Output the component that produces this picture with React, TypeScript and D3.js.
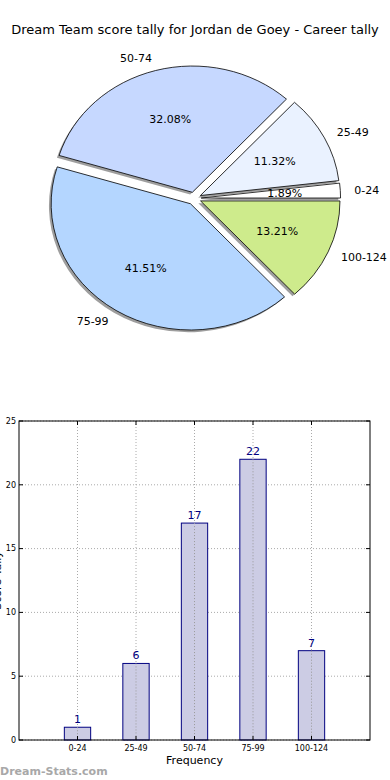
import React from "react";
import * as d3 from "d3";

const categories = ["0-24", "25-49", "50-74", "75-99", "100-124"];
const counts = [1, 6, 17, 22, 7];
const pieColors = ["#ffffff", "#eaf2ff", "#c6d8ff", "#b4d6ff", "#ceeb8c"];
const yTicks = [0, 5, 10, 15, 20, 25];
const title = "Dream Team score tally for Jordan de Goey - Career tally";

const FONT = "DejaVu Sans, sans-serif";

export default function App() {
  const total = d3.sum(counts);
  // pie geometry (elliptical, matplotlib-style counterclockwise from 3 o'clock)
  const cx = 194.2, cy = 198.4, rx = 139.4, ry = 126.3, ex = 0.05;
  const pie = d3.pie<number>().sort(null).startAngle(Math.PI / 2).endAngle(Math.PI / 2 - 2 * Math.PI);
  const arcs = pie(counts);
  const arc = d3.arc<d3.PieArcDatum<number>>().innerRadius(0).outerRadius(1);

  const slices = arcs.map((a, i) => {
    const midD3 = (a.startAngle + a.endAngle) / 2;
    const ux = Math.sin(midD3), uy = -Math.cos(midD3);
    const ox = cx + ex * rx * ux, oy = cy + ex * ry * uy;
    return { a, i, ux, uy, ox, oy };
  });

  // bar chart
  const left = 19, right = 370, top = 421, bottom = 740;
  const x = d3.scaleLinear().domain([-1, 5]).range([left, right]);
  const y = d3.scaleLinear().domain([0, 25]).range([bottom, top]);
  const bw = x(0.45) - x(0);

  return (
    <svg width={390} height={780} style={{ position: "absolute", left: 0, top: 0, background: "#fff" }} fontFamily={FONT}>
      <text x={195} y={34} textAnchor="middle" fontSize={13} fill="#000">{title}</text>
      {/* shadows */}
      {slices.map(s => (
        <path key={"sh" + s.i} d={arc(s.a) || ""} transform={`translate(${s.ox - 2.2},${s.oy + 2.2}) scale(${rx},${ry})`} fill="#000" fillOpacity={0.38} stroke="none" />
      ))}
      {slices.map(s => (
        <path key={"sl" + s.i} d={arc(s.a) || ""} transform={`translate(${s.ox},${s.oy}) scale(${rx},${ry})`} fill={pieColors[s.i]} stroke="#000" strokeWidth={0.8} vectorEffect="non-scaling-stroke" strokeLinejoin="round" />
      ))}
      {slices.map(s => (
        <text key={"pc" + s.i} x={s.ox + 0.6 * rx * s.ux} y={s.oy + 0.6 * ry * s.uy} dy="0.35em" textAnchor="middle" fontSize={11} fill="#000">
          {(counts[s.i] / total * 100).toFixed(2) + "%"}
        </text>
      ))}
      {slices.map(s => (
        <text key={"lb" + s.i} x={s.ox + 1.1 * rx * s.ux} y={s.oy + 1.1 * ry * s.uy} dy="0.35em" textAnchor={s.ux > 0 ? "start" : "end"} fontSize={11} fill="#000">
          {categories[s.i]}
        </text>
      ))}

      {/* bar chart grid */}
      {yTicks.map(t => (
        <line key={"gy" + t} x1={left} x2={right} y1={y(t)} y2={y(t)} stroke="#aaa" strokeWidth={1} strokeDasharray="1,2" />
      ))}
      {categories.map((c, i) => (
        <line key={"gx" + i} x1={x(i)} x2={x(i)} y1={top} y2={bottom} stroke="#aaa" strokeWidth={1} strokeDasharray="1,2" />
      ))}
      {counts.map((v, i) => (
        <rect key={"b" + i} x={x(i) - bw / 2} y={y(v)} width={bw} height={y(0) - y(v)} fill="#ccccE4" stroke="#000080" strokeWidth={1} />
      ))}
      {categories.map((c, i) => (
        <line key={"gx2" + i} x1={x(i)} x2={x(i)} y1={y(counts[i])} y2={bottom} stroke="#999" strokeWidth={1} strokeDasharray="1,2" />
      ))}
      {counts.map((v, i) => (
        <text key={"v" + i} x={x(i)} y={y(v) - 4} textAnchor="middle" fontSize={11} fill="#000080">{v}</text>
      ))}
      <rect x={left} y={top} width={right - left} height={bottom - top} fill="none" stroke="#000" strokeWidth={1} />
      {yTicks.map(t => (
        <g key={"ty" + t}>
          <line x1={left} x2={left + 4} y1={y(t)} y2={y(t)} stroke="#000" />
          <line x1={right - 4} x2={right} y1={y(t)} y2={y(t)} stroke="#000" />
          <text x={left - 3} y={y(t)} dy="0.35em" textAnchor="end" fontSize={8} fill="#000">{t}</text>
        </g>
      ))}
      {categories.map((c, i) => (
        <g key={"tx" + i}>
          <line x1={x(i)} x2={x(i)} y1={bottom} y2={bottom - 4} stroke="#000" />
          <line x1={x(i)} x2={x(i)} y1={top} y2={top + 4} stroke="#000" />
          <text x={x(i)} y={bottom + 11} textAnchor="middle" fontSize={8} fill="#000">{c}</text>
        </g>
      ))}
      <text x={(left + right) / 2} y={764} textAnchor="middle" fontSize={11} fill="#000">Frequency</text>
      <text transform={`translate(1,${(top + bottom) / 2}) rotate(-90)`} textAnchor="middle" fontSize={11} fill="#000">Score Tally</text>
      <text x={0} y={775} fontSize={11} fontWeight={600} fill="#a8a8a8">Dream-Stats.com</text>
    </svg>
  );
}
